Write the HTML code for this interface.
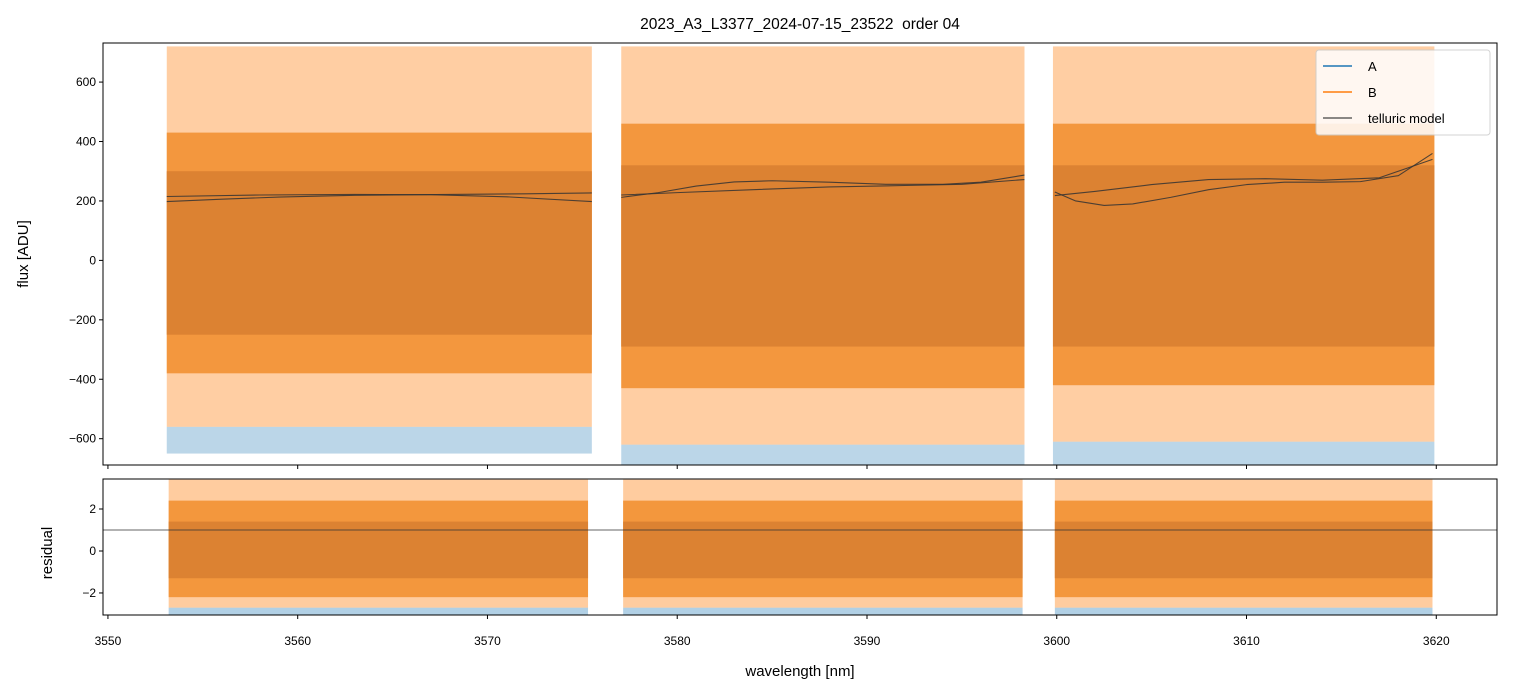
<!DOCTYPE html>
<html><head><meta charset="utf-8"><style>
body{margin:0;background:#fff;}
svg{display:block;font-family:"Liberation Sans","DejaVu Sans",sans-serif;}
</style></head><body>
<svg id="chart" width="1513" height="696" viewBox="0 0 1513 696" xmlns="http://www.w3.org/2000/svg">
<text x="800" y="29" font-size="15.5" text-anchor="middle" style="white-space:pre">2023_A3_L3377_2024-07-15_23522  order 04</text>
<g id="gtop"></g><g id="gbot"></g>
</svg>
<script>
// ---- data ----
const segments = [[3553.1,3575.5],[3577.05,3598.3],[3599.8,3619.9]];
const residSegments = [[3553.2,3575.3],[3577.15,3598.2],[3599.9,3619.8]];
const xTicks = [3550,3560,3570,3580,3590,3600,3610,3620];
const fluxTicks = [600,400,200,0,-200,-400,-600];
const residTicks = [2,0,-2];
// envelope levels (flux ADU)
const coreLow = [-250,-290,-290], coreHigh = [300,320,320];
const midLow = [-380,-430,-420], midHigh = [430,460,460];
const spikeHigh = [720,720,720], spikeLow = [-560,-620,-610];
const blueLow = [-650,-690,-690];
const residCore = [-1.3,1.4], residMid = [-2.2,2.4], residSpike = [-2.7,3.4], residBlue = -3.1;
const residLine = 1.0;
// telluric model samples per segment (wavelength, flux)
const tellA = [[[3553.1,198],[3556,206],[3559,213],[3563,219],[3568,222],[3572,224],[3575.5,227]],
               [[3577.05,212],[3579,228],[3581,250],[3583,264],[3585,268],[3588,263],[3591,256],[3594,256],[3596,263],[3598.3,287]],
               [[3599.9,230],[3601,200],[3602.5,185],[3604,190],[3606,212],[3608,238],[3610,255],[3612,263],[3614,263],[3616,265],[3618,285],[3619.8,360]]];
const tellB = [[[3553.1,215],[3558,220],[3563,222],[3567,221],[3571,214],[3575.5,198]],
               [[3577.05,220],[3580,228],[3584,238],[3588,247],[3592,252],[3595,256],[3598.3,272]],
               [[3599.9,218],[3602,232],[3605,255],[3608,272],[3611,275],[3614,270],[3617,278],[3619.8,340]]];

const NS="http://www.w3.org/2000/svg";
const X0=103,X1=1497, xmin=3549.74, xmax=3623.2;
const xs=v=>X0+(v-xmin)/(xmax-xmin)*(X1-X0);
const T0=43,T1=465, tmax=731.5, tmin=-688.5;
const ys=v=>T0+(tmax-v)/(tmax-tmin)*(T1-T0);
const B0=479,B1=615, bmax=3.43, bmin=-3.05;
const yb=v=>B0+(bmax-v)/(bmax-bmin)*(B1-B0);
function el(tag,attrs,parent,text){const e=document.createElementNS(NS,tag);for(const k in attrs)e.setAttribute(k,attrs[k]);if(text!==undefined)e.textContent=text;parent.appendChild(e);return e;}
const gTop=document.getElementById('gtop'), gBot=document.getElementById('gbot');
function clip(id,y0,y1){const d=el('defs',{},gTop);const c=el('clipPath',{id:id},d);el('rect',{x:X0,y:y0,width:X1-X0,height:y1-y0},c);}
clip('ct',T0,T1);clip('cb',B0,B1);
const gt=el('g',{'clip-path':'url(#ct)'},gTop), gb=el('g',{'clip-path':'url(#cb)'},gBot);

segments.forEach((s,i)=>{
  const x=xs(s[0]), w=xs(s[1])-xs(s[0]);
  let r;
  r=el('rect',{x:x,y:ys(spikeLow[i]),width:w,height:ys(blueLow[i])-ys(spikeLow[i]),fill:'#1f77b4',opacity:0.3},gt);
  
  
  r=el('rect',{x:x,y:ys(spikeHigh[i]),width:w,height:ys(spikeLow[i])-ys(spikeHigh[i]),fill:'#ff7f0e',opacity:0.38},gt);
  
  
  r=el('rect',{x:x,y:ys(midHigh[i]),width:w,height:ys(midLow[i])-ys(midHigh[i]),fill:'#f08a24',opacity:0.8},gt);
  
  
  r=el('rect',{x:x,y:ys(coreHigh[i]),width:w,height:ys(coreLow[i])-ys(coreHigh[i]),fill:'#dc8232'},gt);
  
  
  [tellA[i],tellB[i]].forEach(pts=>{
    const p=el('polyline',{points:pts.map(q=>xs(q[0])+','+ys(q[1])).join(' '),fill:'none',stroke:'#333',opacity:0.85,'stroke-width':1.1,'stroke-linejoin':'round'},gt);
    
    
  });
});
residSegments.forEach((s,i)=>{
  const x=xs(s[0]), w=xs(s[1])-xs(s[0]);
  let r;
  r=el('rect',{x:x,y:yb(residSpike[0]),width:w,height:yb(residBlue)-yb(residSpike[0]),fill:'#1f77b4',opacity:0.35},gb);
  
  
  r=el('rect',{x:x,y:yb(residSpike[1]),width:w,height:yb(residSpike[0])-yb(residSpike[1]),fill:'#ff7f0e',opacity:0.4},gb);
  
  
  r=el('rect',{x:x,y:yb(residMid[1]),width:w,height:yb(residMid[0])-yb(residMid[1]),fill:'#f08a24',opacity:0.8},gb);
  
  
  r=el('rect',{x:x,y:yb(residCore[1]),width:w,height:yb(residCore[0])-yb(residCore[1]),fill:'#dc8232'},gb);
  
  
});
let hl=el('line',{x1:X0,x2:X1,y1:yb(residLine),y2:yb(residLine),stroke:'#333','stroke-width':0.7},gb);



let f=el('rect',{x:X0,y:T0,width:X1-X0,height:T1-T0,fill:'none',stroke:'#000','stroke-width':1},gTop);


f=el('rect',{x:X0,y:B0,width:X1-X0,height:B1-B0,fill:'none',stroke:'#000','stroke-width':1},gBot);


xTicks.forEach(t=>{
  const x=xs(t);
  el('line',{x1:x,x2:x,y1:T1,y2:T1+4,stroke:'#000'},gTop);
  el('line',{x1:x,x2:x,y1:B1,y2:B1+4,stroke:'#000'},gBot);
  const tx=el('text',{x:x,y:B1+30,'font-size':12,'text-anchor':'middle'},gBot,String(t));
  
  
});
fluxTicks.forEach(t=>{
  const y=ys(t);
  el('line',{x1:X0-4,x2:X0,y1:y,y2:y,stroke:'#000'},gTop);
  const tx=el('text',{x:X0-7,y:y+4,'font-size':12,'text-anchor':'end'},gTop,t<0?'\u2212'+(-t):String(t));
  
  
});
residTicks.forEach(t=>{
  const y=yb(t);
  el('line',{x1:X0-4,x2:X0,y1:y,y2:y,stroke:'#000'},gBot);
  const tx=el('text',{x:X0-7,y:y+4,'font-size':12,'text-anchor':'end'},gBot,t<0?'\u2212'+(-t):String(t));
  
  
});
let a=el('text',{x:800,y:676,'font-size':15,'text-anchor':'middle'},gBot,'wavelength [nm]');


a=el('text',{x:28,y:254,'font-size':15,'text-anchor':'middle',transform:'rotate(-90 28 254)'},gTop,'flux [ADU]');


a=el('text',{x:52,y:553,'font-size':15,'text-anchor':'middle',transform:'rotate(-90 52 553)'},gBot,'residual');



const lg=el('g',{},gTop);


el('rect',{x:1316,y:50,width:174,height:85,rx:3,fill:'#fff',opacity:0.85,stroke:'#ccc'},lg);
[['A','#1f77b4',1.5],['B','#ff7f0e',1.5],['telluric model','#444',1.3]].forEach((e,i)=>{
  const y=66+i*26;
  const g=el('g',{},lg);
  
  
  el('line',{x1:1323,x2:1352,y1:y,y2:y,stroke:e[1],'stroke-width':e[2]},g);
  el('text',{x:1368,y:y+5,'font-size':13},g,e[0]);
});
</script>
</body></html>
